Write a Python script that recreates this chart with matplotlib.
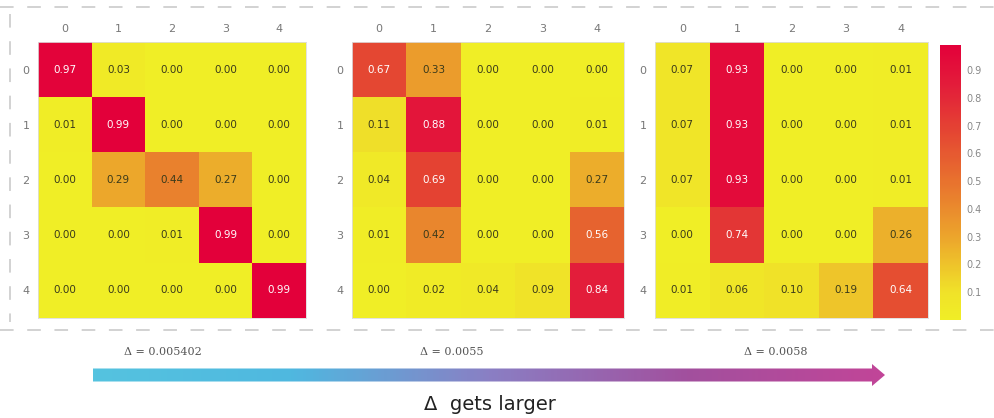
import numpy as np
import matplotlib
matplotlib.use('Agg')
import matplotlib.pyplot as plt
from matplotlib.colors import LinearSegmentedColormap
from matplotlib.patches import FancyArrow

# matrices (rows = true, cols = predicted)
m1 = [[0.97, 0.03, 0.00, 0.00, 0.00],
      [0.01, 0.99, 0.00, 0.00, 0.00],
      [0.00, 0.29, 0.44, 0.27, 0.00],
      [0.00, 0.00, 0.01, 0.99, 0.00],
      [0.00, 0.00, 0.00, 0.00, 0.99]]
m2 = [[0.67, 0.33, 0.00, 0.00, 0.00],
      [0.11, 0.88, 0.00, 0.00, 0.01],
      [0.04, 0.69, 0.00, 0.00, 0.27],
      [0.01, 0.42, 0.00, 0.00, 0.56],
      [0.00, 0.02, 0.04, 0.09, 0.84]]
m3 = [[0.07, 0.93, 0.00, 0.00, 0.01],
      [0.07, 0.93, 0.00, 0.00, 0.01],
      [0.07, 0.93, 0.00, 0.00, 0.01],
      [0.00, 0.74, 0.00, 0.00, 0.26],
      [0.01, 0.06, 0.10, 0.19, 0.64]]
labels = ['0', '1', '2', '3', '4']
deltas = ['\u0394 = 0.005402', '\u0394 = 0.0055', '\u0394 = 0.0058']
cbar_ticks = [0.1, 0.2, 0.3, 0.4, 0.5, 0.6, 0.7, 0.8, 0.9]

cmap = LinearSegmentedColormap.from_list('yr', [
    (0.0, '#F0EE26'), (0.1, '#F0E229'), (0.3, '#ECA52C'),
    (0.5, '#E8732E'), (0.7, '#E44233'), (0.85, '#E31E3A'), (1.0, '#E3003A')])

fig = plt.figure(figsize=(9.95, 4.18), dpi=100)
W, H = 995.0, 418.0

def fx(x): return x / W
def fy(y): return 1 - y / H

# dashed frame
bg = fig.add_axes([0, 0, 1, 1], zorder=-1)
bg.set_xlim(0, W); bg.set_ylim(H, 0); bg.axis('off')
bg.plot([0, W], [7, 7], ls=(0, (7, 7)), color='#d2d2d2', lw=1.4)
bg.plot([0, W], [330, 330], ls=(0, (7, 7)), color='#d2d2d2', lw=1.4)
bg.plot([10, 10], [14, 322], ls=(0, (7, 7)), color='#d2d2d2', lw=1.4)

panels = [(m1, 38, 306), (m2, 352, 624), (m3, 655, 928)]
im = None
for m, x0, x1 in panels:
    ax = fig.add_axes([fx(x0), fy(318), fx(x1 - x0), (318 - 42) / H])
    arr = np.array(m)
    im = ax.imshow(arr, cmap=cmap, vmin=0, vmax=0.99, aspect='auto')
    for i in range(5):
        for j in range(5):
            v = arr[i, j]
            ax.text(j, i, '%.2f' % v, ha='center', va='center', fontsize=7.5,
                    color='white' if v > 0.5 else '#3a3a1a')
    ax.set_xticks(range(5)); ax.set_xticklabels(labels)
    ax.set_yticks(range(5)); ax.set_yticklabels(labels)
    ax.xaxis.tick_top()
    ax.tick_params(length=0, labelsize=8, labelcolor='#777777', pad=6)
    for s in ax.spines.values():
        s.set_color('#dddddd'); s.set_linewidth(0.6)

cax = fig.add_axes([fx(940), fy(320), fx(21), (320 - 45) / H])
cb = fig.colorbar(im, cax=cax, ticks=cbar_ticks)
cb.outline.set_visible(False)
cb.ax.tick_params(length=0, labelsize=7, labelcolor='#888888', pad=4)

# bottom labels and gradient arrow
for txt, x in zip(deltas, [163, 452, 776]):
    bg.text(x, 352, txt, ha='center', va='center', fontsize=8, color='#555555',
            family='DejaVu Serif')

arrow = FancyArrow(93, 375, 792, 0, width=13, head_width=22, head_length=13,
                   length_includes_head=True, transform=bg.transData,
                   facecolor='none', edgecolor='none')
bg.add_patch(arrow)
grad = LinearSegmentedColormap.from_list('g', ['#55C3DF', '#4FB8E0', '#8A7FC4', '#A2509E', '#C24598'])
gimg = bg.imshow(np.linspace(0, 1, 256).reshape(1, -1), cmap=grad, aspect='auto',
                 extent=[93, 885, 387, 363], zorder=1)
gimg.set_clip_path(arrow)
bg.set_xlim(0, W); bg.set_ylim(H, 0)

bg.text(490, 404, '\u0394  gets larger', ha='center', va='center', fontsize=14, color='#222222')

plt.savefig('out.png', dpi=100)
